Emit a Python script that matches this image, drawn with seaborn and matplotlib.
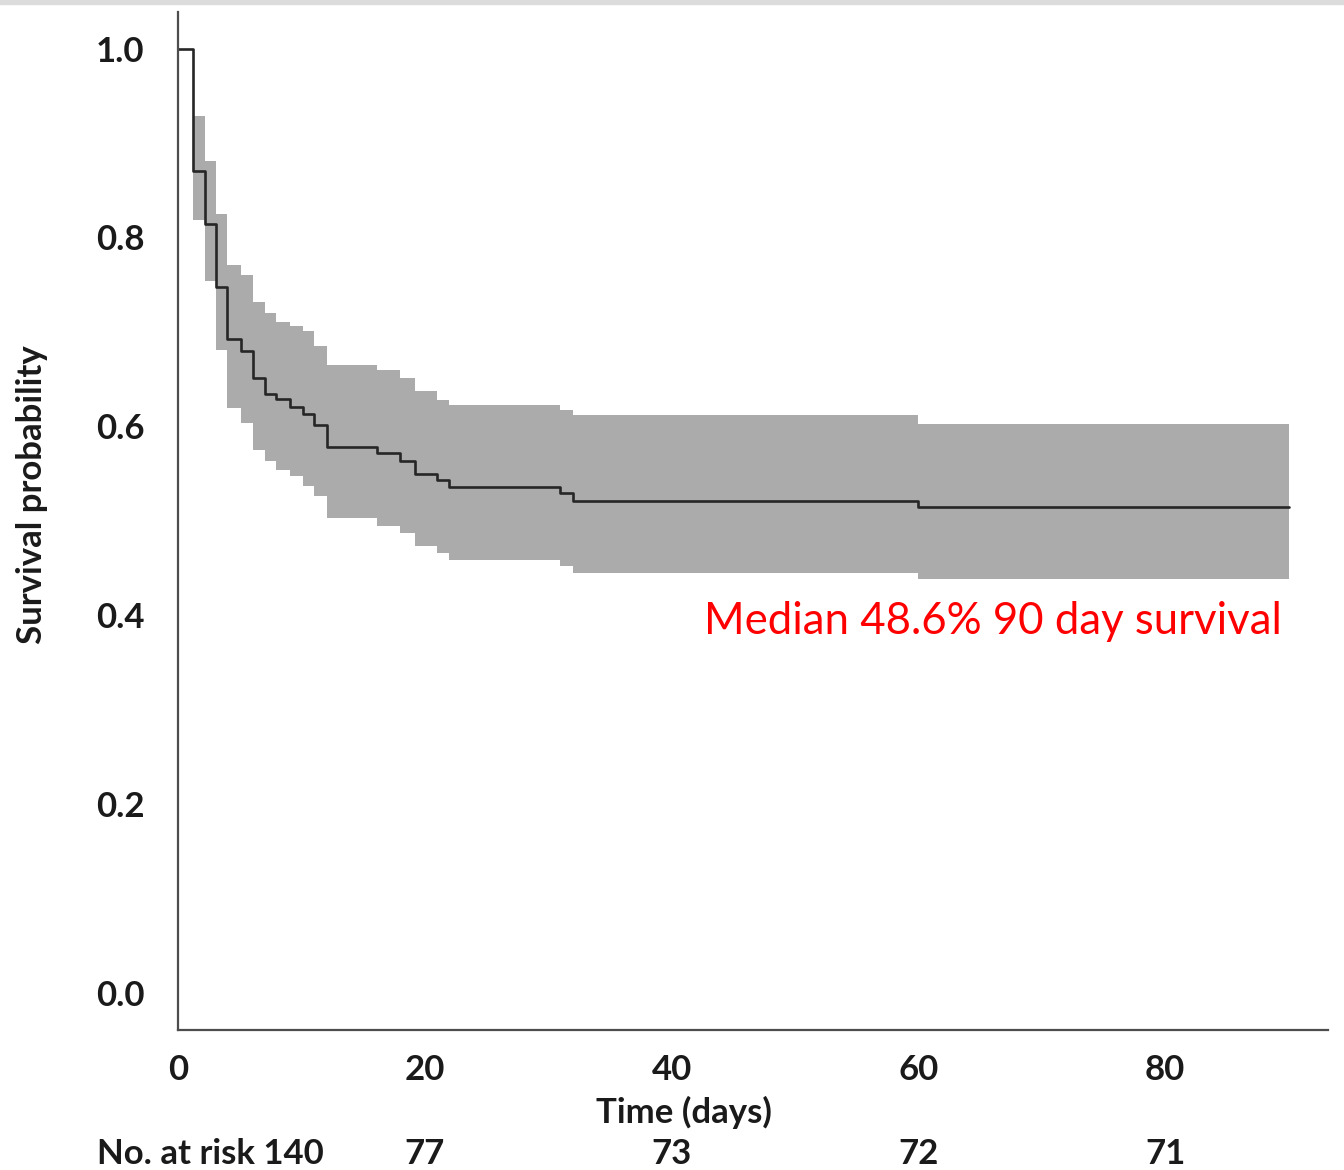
import matplotlib
matplotlib.use("Agg")
import matplotlib.pyplot as plt
import seaborn as sns
import numpy as np
import pandas as pd
from matplotlib.patches import Rectangle

# ---- data ----
times = [0, 1.25, 2.2, 3.1, 4.0, 5.15, 6.1, 7.05, 7.95, 9.1, 10.1, 11.0, 12.1,
         16.1, 18.0, 19.2, 21.0, 22.0, 31.0, 32.0, 60.0, 90.0]
survival = [1.0, 0.870, 0.814, 0.748, 0.692, 0.680, 0.651, 0.634, 0.629, 0.621,
            0.613, 0.601, 0.578, 0.572, 0.563, 0.550, 0.543, 0.536, 0.529, 0.521,
            0.515, 0.515]
upper = [1.0, 0.929, 0.881, 0.825, 0.771, 0.760, 0.732, 0.720, 0.711, 0.706,
         0.7005, 0.685, 0.665, 0.660, 0.651, 0.637, 0.628, 0.623, 0.6176, 0.612,
         0.6024, 0.6024]
lower = [1.0, 0.819, 0.7535, 0.681, 0.6195, 0.604, 0.575, 0.563, 0.554, 0.547,
         0.537, 0.526, 0.503, 0.494, 0.487, 0.4735, 0.466, 0.4587, 0.4523, 0.4446,
         0.4382, 0.4382]
risk_times = [20, 40, 60, 80]
risk_counts = [77, 73, 72, 71]
risk_start = 140
x_ticks = [0, 20, 40, 60, 80]
y_ticks = [0.0, 0.2, 0.4, 0.6, 0.8, 1.0]
annotation = "Median 48.6% 90 day survival"

df = pd.DataFrame({"time": times, "surv": survival, "upper": upper, "lower": lower})

sns.set_style("white")
plt.rcParams["font.family"] = ["Lato", "DejaVu Sans"]

FS = 25
TXT = "#1a1a1a"

fig = plt.figure(figsize=(13.44, 11.7), dpi=100)
ax = fig.add_axes([0.1324, 0.1197, 0.8557, 0.8703])

ax.fill_between(df["time"], df["lower"], df["upper"], step="post",
                color="#ababab", linewidth=0)
sns.lineplot(data=df, x="time", y="surv", drawstyle="steps-post",
             color="#262626", linewidth=1.9, ax=ax)

ax.set_xlim(0, 93.2)
ax.set_ylim(-0.039, 1.039)
ax.set_xticks(x_ticks)
ax.set_yticks(y_ticks)
ax.set_yticklabels([f"{v:.1f}" for v in y_ticks])
ax.set_xticklabels([str(v) for v in x_ticks])

for s in ["top", "right"]:
    ax.spines[s].set_visible(False)
for s in ["left", "bottom"]:
    ax.spines[s].set_color("#4d4d4d")
    ax.spines[s].set_linewidth(1.6)

ax.tick_params(axis="both", direction="out", length=11, width=1.5, color="#4d4d4d",
               labelsize=FS, labelcolor=TXT)
ax.tick_params(axis="y", pad=13)
ax.tick_params(axis="x", pad=6)
for lab in ax.get_xticklabels() + ax.get_yticklabels():
    lab.set_fontweight("bold")

ax.set_xlabel("Time (days)", fontsize=FS, fontweight="bold", color=TXT)
ax.set_ylabel("Survival probability", fontsize=FS, fontweight="bold", color=TXT)
ax.yaxis.set_label_coords(-0.113, 0.526)
ax.xaxis.set_label_coords(0.44, -0.065)

ax.text(89.5, 0.393, annotation, color="#ff0000", fontsize=31.5,
        ha="right", va="center")

# number at risk row
trans = ax.get_xaxis_transform()
ax.text(-6.6, -0.122, f"No. at risk {risk_start}", transform=trans, ha="left",
        va="center", fontsize=FS, fontweight="bold", color=TXT)
for t, c in zip(risk_times, risk_counts):
    ax.text(t, -0.122, str(c), transform=trans, ha="center", va="center",
            fontsize=FS, fontweight="bold", color=TXT)

fig.patches.append(Rectangle((0, 1 - 4 / 1170), 1, 4 / 1170, transform=fig.transFigure,
                             color="#dcdcdc", zorder=0))

fig.savefig("out.png", dpi=100)
